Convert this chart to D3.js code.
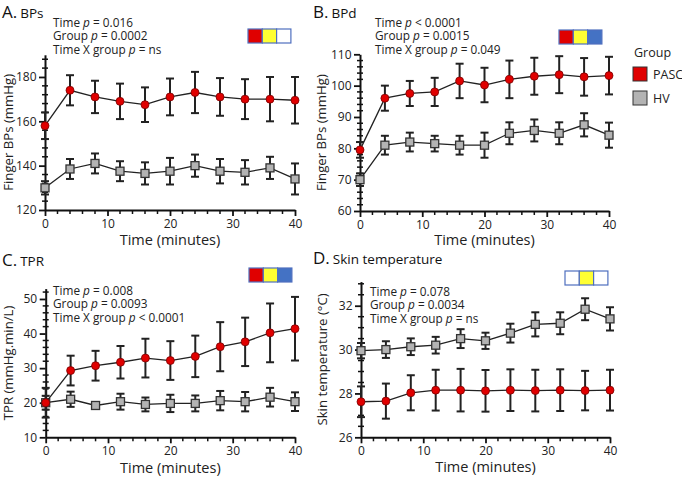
<!DOCTYPE html>
<html><head><meta charset="utf-8">
<script src="https://cdn.jsdelivr.net/npm/d3@7"></script>
<style>
html,body{margin:0;padding:0;background:#fff;}
svg{display:block;font-family:"Open Sans",sans-serif;}
</style></head>
<body>
<svg id="chart" width="682" height="478"></svg>
<script>
const times = [0,4,8,12,16,20,24,28,32,36,40];
const xTicks = [0,10,20,30,40];

const bpsPASC = [158,174,171,169,167.5,171,173,171,170,170,169.5];
const bpsPASCerr = [6,6.8,7.3,8,7.8,8.3,9.3,8.5,9,10,10.5];
const bpsHV = [130,138.5,141,137.5,136.5,137.5,140,137.5,137,139,134];
const bpsHVerr = [3,4.5,4.5,4.5,5,6,5,5.5,5.5,5,7];

const bpdPASC = [79.5,96,97.5,98,101.5,100.2,102,103,103.5,102.8,103.2];
const bpdPASCerr = [2.5,4,4,4.5,5.5,5.5,6,5.9,5.9,6,6];
const bpdHV = [70,81,82,81.5,81,81,84.8,85.7,84.8,87.5,84.2];
const bpdHVerr = [2,3,3,2.5,3,4,3.5,3.5,3.5,3.7,4];

const tprPASC = [20,29.3,30.7,31.7,32.9,32.2,33.4,36.2,37.6,40.2,41.4];
const tprPASCerr = [4.3,4.3,4.3,4.7,5.6,5.6,6,7.1,7,8.5,9.2];
const tprHV = [20,21,19.2,20.3,19.5,19.8,19.8,20.6,20.3,21.6,20.3];
const tprHVerr = [2,2.2,0.5,2.3,2,2.5,2.3,2.8,2.8,2.7,2.7];

const skinPASC = [27.62,27.65,28.03,28.15,28.15,28.12,28.15,28.13,28.15,28.13,28.15];
const skinPASCerr = [0.7,0.8,0.8,0.93,0.97,0.95,0.95,0.95,0.95,0.9,0.93];
const skinHV = [29.95,30.0,30.13,30.2,30.5,30.4,30.75,31.15,31.2,31.84,31.4];
const skinHVerr = [0.35,0.38,0.38,0.38,0.43,0.37,0.43,0.55,0.5,0.5,0.53];

const legendLabels = ["PASC","HV"];
const colors = {PASC:"#e00000", HV:"#b3b3b3", yellow:"#ffff33", blue:"#4472c4", box:"#4f6fbf"};

const svg = d3.select("#chart");

const panels = [
  {letter:"A.", title:"BPs", ylabel:"Finger BPs (mmHg)", yDomain:[120,190], yTicks:[120,140,160,180], yMinor:4,
   xr:[45,295], yr:[210,54.8], pasc:bpsPASC, pascErr:bpsPASCerr, hv:bpsHV, hvErr:bpsHVerr,
   titlePos:[2,18], ann:["Time |p| = 0.016","Group |p| = 0.0002","Time X group |p| = ns"], annPos:[53,27],
   boxes:[colors.PASC,colors.yellow,"#ffffff"], boxPos:[248,29], xlabelY:245, ylabelX:12.5},
  {letter:"B.", title:"BPd", ylabel:"Finger BPs (mmHg)", yDomain:[60,110], yTicks:[60,70,80,90,100,110], yMinor:2,
   xr:[360,609], yr:[211,54.3], pasc:bpdPASC, pascErr:bpdPASCerr, hv:bpdHV, hvErr:bpdHVerr,
   titlePos:[313,18], ann:["Time |p| < 0.0001","Group |p| = 0.0015","Time X group |p| = 0.049"], annPos:[375,27],
   boxes:[colors.PASC,colors.yellow,colors.blue], boxPos:[559,30], xlabelY:245, ylabelX:326},
  {letter:"C.", title:"TPR", ylabel:"TPR (mmHg.min/L)", yDomain:[10,53], yTicks:[10,20,30,40,50], yMinor:2,
   xr:[45.7,295], yr:[437.3,288.6], pasc:tprPASC, pascErr:tprPASCerr, hv:tprHV, hvErr:tprHVerr,
   titlePos:[2,266], ann:["Time |p| = 0.008","Group |p| = 0.0093","Time X group |p| < 0.0001"], annPos:[53,295],
   boxes:[colors.PASC,colors.yellow,colors.blue], boxPos:[249,268], xlabelY:473, ylabelX:12.5},
  {letter:"D.", title:"Skin temperature", ylabel:"Skin temperature (°C)", yDomain:[26,33.1], yTicks:[26,28,30,32], yMinor:0.5,
   xr:[361,610], yr:[437.3,281.6], pasc:skinPASC, pascErr:skinPASCerr, hv:skinHV, hvErr:skinHVerr,
   titlePos:[313,264], ann:["Time |p| = 0.078","Group |p| = 0.0034","Time X group |p| = ns"], annPos:[370,296],
   boxes:["#ffffff",colors.yellow,"#ffffff"], boxPos:[565,271], xlabelY:472, ylabelX:327}
];

panels.forEach(p => {
  const g = svg.append("g");
  const x = d3.scaleLinear().domain([0,40]).range(p.xr);
  const y = d3.scaleLinear().domain(p.yDomain).range(p.yr);
  const x0 = p.xr[0], y0 = p.yr[0];

  // title
  const t = g.append("text").attr("x",p.titlePos[0]).attr("y",p.titlePos[1]).attr("fill","#111");
  t.append("tspan").attr("font-size",17).text(p.letter);
  t.append("tspan").attr("font-size",13.5).attr("dx",3).text(p.title);

  // annotation
  p.ann.forEach((line,i) => {
    const parts = line.split("|");
    const tt = g.append("text").attr("x",p.annPos[0]).attr("y",p.annPos[1]+i*13.4)
      .attr("font-size",11.8).attr("fill","#222");
    tt.append("tspan").text(parts[0]);
    tt.append("tspan").attr("font-style","italic").text(parts[1]);
    tt.append("tspan").text(parts[2]);
  });

  // colour boxes
  const bw = 14.3;
  p.boxes.forEach((c,i) => {
    g.append("rect").attr("x",p.boxPos[0]+i*bw).attr("y",p.boxPos[1]).attr("width",bw).attr("height",14)
      .attr("fill",c).attr("stroke",colors.box).attr("stroke-width",1.2);
  });

  // axes
  const xAxis = d3.axisBottom(x).tickValues(xTicks).tickSize(6).tickSizeOuter(0).tickFormat(d3.format("d"));
  const xa = g.append("g").attr("transform",`translate(0,${y0})`).call(xAxis);
  const xMinor = d3.range(0,41,2).filter(v => v%10!==0);
  xa.selectAll(".minor").data(xMinor).enter().append("line").attr("class","minor")
    .attr("x1",d=>x(d)).attr("x2",d=>x(d)).attr("y1",0).attr("y2",4).attr("stroke","#111").attr("stroke-width",1.5);

  const yAxis = d3.axisLeft(y).tickValues(p.yTicks).tickSize(6).tickSizeOuter(0).tickFormat(d3.format("d"));
  const ya = g.append("g").attr("transform",`translate(${x0},0)`).call(yAxis);
  const yMinorVals = d3.range(p.yDomain[0], p.yDomain[1]+1e-6, p.yMinor).filter(v => !p.yTicks.some(tk=>Math.abs(tk-v)<1e-6));
  ya.selectAll(".minor").data(yMinorVals).enter().append("line").attr("class","minor")
    .attr("x1",-3).attr("x2",3).attr("y1",d=>y(d)).attr("y2",d=>y(d)).attr("stroke","#111").attr("stroke-width",1.5);

  [xa,ya].forEach(a => {
    a.select(".domain").attr("stroke","#111").attr("stroke-width",2);
    a.selectAll(".tick line").attr("stroke","#111").attr("stroke-width",1.8);
    a.selectAll(".tick text").attr("font-size",12).attr("fill","#222").attr("font-family","Open Sans");
  });
  ya.selectAll(".tick text").attr("dx","0.5");

  // axis labels
  g.append("text").attr("x",(p.xr[0]+p.xr[1])/2).attr("y",p.xlabelY).attr("text-anchor","middle")
    .attr("font-size",14.5).attr("fill","#222").text("Time (minutes)");
  g.append("text").attr("transform",`translate(${p.ylabelX},${(p.yr[0]+p.yr[1])/2}) rotate(-90)`)
    .attr("text-anchor","middle").attr("font-size",13.2).attr("fill","#222").text(p.ylabel);

  // series
  const series = [
    {vals:p.hv, err:p.hvErr, type:"sq"},
    {vals:p.pasc, err:p.pascErr, type:"ci"}
  ];
  const line = d3.line().x((d,i)=>x(times[i])).y(d=>y(d));
  series.forEach(s => {
    const sg = g.append("g");
    times.forEach((tm,i) => {
      const cx = x(tm), top = y(s.vals[i]+s.err[i]), bot = y(s.vals[i]-s.err[i]);
      sg.append("line").attr("x1",cx).attr("x2",cx).attr("y1",top).attr("y2",bot).attr("stroke","#222").attr("stroke-width",2);
      [top,bot].forEach(yy => sg.append("line").attr("x1",cx-4).attr("x2",cx+4).attr("y1",yy).attr("y2",yy)
        .attr("stroke","#222").attr("stroke-width",2));
    });
    sg.append("path").datum(s.vals).attr("d",line).attr("fill","none").attr("stroke","#222").attr("stroke-width",1.3);
    if (s.type==="sq") {
      sg.selectAll("rect.m").data(s.vals).enter().append("rect").attr("class","m")
        .attr("x",(d,i)=>x(times[i])-4).attr("y",d=>y(d)-4).attr("width",8).attr("height",8)
        .attr("fill",colors.HV).attr("stroke","#333").attr("stroke-width",1.3);
    } else {
      sg.selectAll("circle.m").data(s.vals).enter().append("circle").attr("class","m")
        .attr("cx",(d,i)=>x(times[i])).attr("cy",d=>y(d)).attr("r",4)
        .attr("fill",colors.PASC).attr("stroke","#7a0000").attr("stroke-width",0.8);
    }
  });
});

// legend
const lg = svg.append("g");
lg.append("text").attr("x",634).attr("y",57).attr("font-size",12.5).attr("fill","#222").text("Group");
legendLabels.forEach((lab,i) => {
  lg.append("rect").attr("x",633).attr("y",67+i*24).attr("width",14).attr("height",14)
    .attr("fill",colors[lab]).attr("stroke","#333").attr("stroke-width",1);
  lg.append("text").attr("x",653).attr("y",79+i*24).attr("font-size",12.5).attr("fill","#222").text(lab);
});
</script>
</body></html>
